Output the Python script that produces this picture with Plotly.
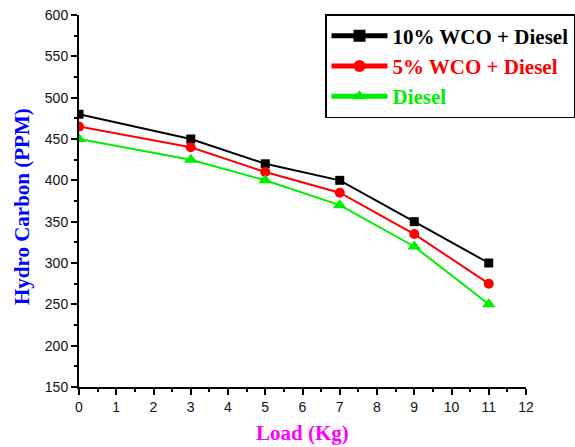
import plotly.graph_objects as go

load = [0, 3, 5, 7, 9, 11]
wco10 = [480, 450, 420, 400, 350, 300]
wco5 = [465, 440, 410, 385, 335, 275]
diesel = [450, 425, 400, 370, 320, 250]

series = [
    ("10% WCO + Diesel", wco10, "#000000", "square", 9),
    ("5% WCO + Diesel", wco5, "#ff0000", "circle", 10),
    ("Diesel", diesel, "#00ee00", "triangle-up", 12),
]

fig = go.Figure()
for name, vals, col, sym, sz in series:
    fig.add_trace(go.Scatter(
        x=load, y=vals, mode="lines+markers",
        name=f"<span style='color:{col}'>{name}</span>",
        line=dict(color=col, width=2),
        marker=dict(symbol=sym, size=sz, color=col),
    ))

axis_common = dict(
    showline=True, linecolor="black", linewidth=2,
    ticks="outside", ticklen=6, tickwidth=2, tickcolor="black",
    showgrid=False, zeroline=False, mirror=False, automargin=False,
    tickfont=dict(family="Liberation Sans, Arial", size=14, color="#111"),
)

fig.update_xaxes(
    range=[0, 12], dtick=1, tick0=0,
    minor=dict(ticks="outside", ticklen=3, tickwidth=1.5, tickcolor="black", dtick=0.5),
    **axis_common,
)
fig.update_yaxes(
    range=[150, 600], dtick=50, tick0=150,
    minor=dict(ticks="outside", ticklen=3, tickwidth=1.5, tickcolor="black", dtick=25),
    **axis_common,
)

title_font = "Liberation Serif, Times New Roman"
fig.add_annotation(
    text="<b>Load (Kg)</b>", xref="paper", yref="paper",
    x=(302 - 79) / 447, y=-(433 - 387) / 372, xanchor="center", yanchor="middle",
    showarrow=False, font=dict(family=title_font, size=21, color="#ff00ff"),
)
fig.add_annotation(
    text="<b>Hydro Carbon (PPM)</b>", xref="paper", yref="paper",
    x=-(79 - 22) / 447, y=(387 - 207) / 372, xanchor="center", yanchor="middle",
    textangle=-90, showarrow=False, font=dict(family=title_font, size=21, color="#0000ff"),
)

fig.update_layout(
    width=575, height=447,
    margin=dict(l=79, r=49, t=15, b=60, autoexpand=False),
    plot_bgcolor="white", paper_bgcolor="white",
    showlegend=True,
    legend=dict(
        x=(325 - 79) / 447, y=(387 - 14) / 372, xanchor="left", yanchor="top",
        bordercolor="black", borderwidth=1.5, bgcolor="white",
        font=dict(family=title_font, size=21, color="black", weight="bold"),
        tracegroupgap=0, itemsizing="constant", itemwidth=56,
    ),
)

fig.write_html("out.html")
